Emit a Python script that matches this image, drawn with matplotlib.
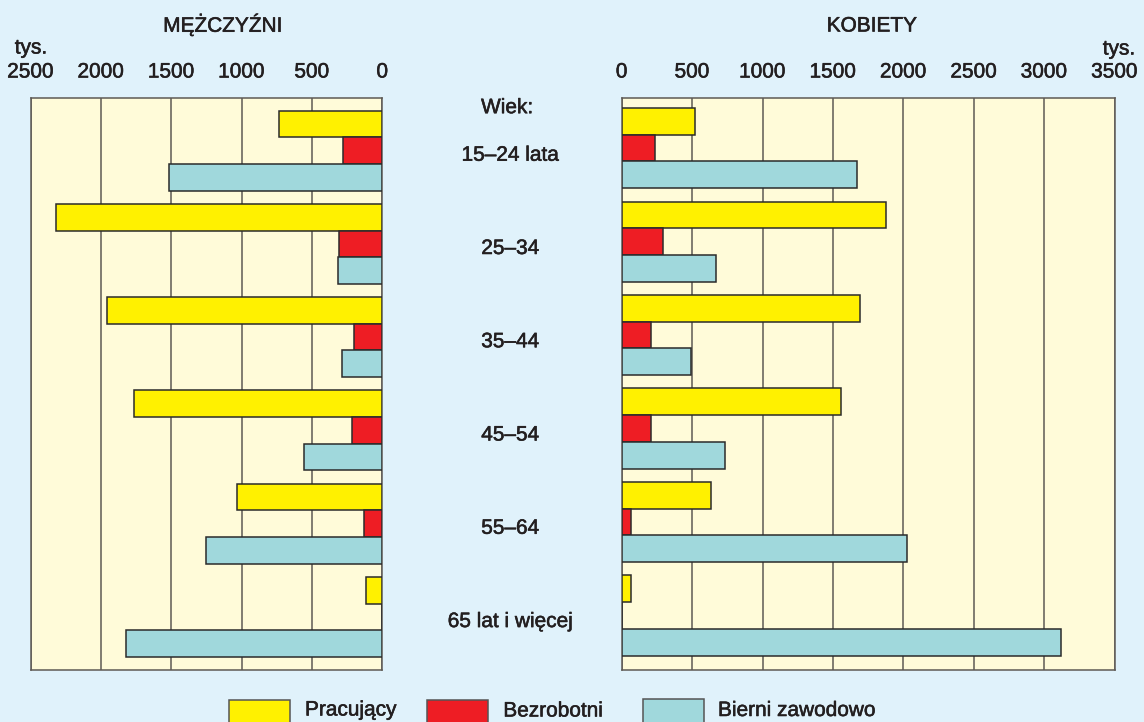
import matplotlib
matplotlib.use('Agg')
import matplotlib.pyplot as plt
import matplotlib.patheffects as pe
from matplotlib.patches import Rectangle
import numpy as np

# dane (tys. osób)
wiek = ['15–24 lata', '25–34', '35–44', '45–54', '55–64', '65 lat i więcej']
m_pracujacy = [737, 2322, 1957, 1761, 1030, 116]
m_bezrobotni = [277, 305, 199, 217, 128, 4]
m_bierni = [1513, 317, 288, 554, 1252, 1818]
k_pracujacy = [518, 1875, 1695, 1560, 634, 66]
k_bezrobotni = [234, 296, 206, 206, 64, 4]
k_bierni = [1669, 670, 490, 734, 2029, 3118]
ticks_m = [0, 500, 1000, 1500, 2000, 2500]
ticks_k = [0, 500, 1000, 1500, 2000, 2500, 3000, 3500]
legenda = ['Pracujący', 'Bezrobotni', 'Bierni zawodowo']

# kolory
tlo = '#e0f2fb'
panel = '#fffbd9'
kolory = ['#fff100', '#ee1d24', '#a0d8dc']
tekst = '#231f20'
siatka = '#5e5a55'

plt.rcParams['font.family'] = ['Liberation Sans', 'DejaVu Sans']
grub = [pe.withStroke(linewidth=0.4, foreground=tekst)]

fig = plt.figure(figsize=(11.44, 7.22), dpi=100, facecolor=tlo)
W, H = 1144, 722

def os_panelu(x0, x1):
    return fig.add_axes([x0 / W, 1 - 669.5 / H, (x1 - x0) / W, 572 / H])

ax_m = os_panelu(30.5, 382.3)
ax_k = os_panelu(621.7, 1114.5)

h = 0.2855
y = np.arange(len(wiek))

def rysuj(ax, serie, xmax, ticks, ylim):
    ax.set_facecolor(panel)
    for j, (wart, kol) in enumerate(zip(serie, kolory)):
        ax.barh(y + (j - 1) * h, wart, height=h, color=kol,
                edgecolor='#2b2b2b', linewidth=1.1, zorder=3)
    ax.set_xlim(0, xmax)
    ax.set_ylim(*ylim)
    ax.set_xticks(ticks)
    ax.set_xticklabels([str(t) for t in ticks], fontsize=15, color=tekst,
                       path_effects=grub)
    ax.xaxis.tick_top()
    ax.tick_params(axis='x', length=0, pad=11.5)
    ax.set_yticks([])
    ax.grid(axis='x', color=siatka, linewidth=1.1)
    ax.set_axisbelow(True)
    for s in ax.spines.values():
        s.set_color(siatka)
        s.set_linewidth(1.1)

rysuj(ax_m, [m_pracujacy, m_bezrobotni, m_bierni], 2500, ticks_m, (5.564, -0.569))
ax_m.invert_xaxis()
rysuj(ax_k, [k_pracujacy, k_bezrobotni, k_bierni], 3500, ticks_k, (5.578, -0.541))

# etykiety grup wieku
tr = ax_m.get_yaxis_transform()
for i, w in enumerate(wiek):
    ax_m.text(1.364, i + 0.05, w, transform=tr, ha='center', va='center',
              fontsize=15, color=tekst, path_effects=grub, clip_on=False)
ax_m.text(1.355, -0.46, 'Wiek:', transform=tr, ha='center', va='center',
          fontsize=15, color=tekst, path_effects=grub, clip_on=False)

# tytuły i jednostki
fig.text(223 / W, 1 - 25 / H, 'MĘŻCZYŹNI', ha='center', va='center',
         fontsize=15, color=tekst, path_effects=grub)
fig.text(872 / W, 1 - 26 / H, 'KOBIETY', ha='center', va='center',
         fontsize=15, color=tekst, path_effects=grub)
fig.text(31 / W, 1 - 48 / H, 'tys.', ha='center', va='center',
         fontsize=15, color=tekst, path_effects=grub)
fig.text(1119 / W, 1 - 49 / H, 'tys.', ha='center', va='center',
         fontsize=15, color=tekst, path_effects=grub)

# legenda
pola = [(229, 700.3, 305, 715.5), (426.7, 699.7, 503.3, 716.5), (643.3, 698.7, 718, 716)]
for (bx, by, tx, ty), kol, lab in zip(pola, kolory, legenda):
    fig.patches.append(Rectangle((bx / W, 1 - 730 / H), 61 / W, (730 - by) / H,
                                 transform=fig.transFigure, facecolor=kol,
                                 edgecolor='#555555', linewidth=1.1))
    fig.text(tx / W, 1 - ty / H, lab, ha='left', va='baseline',
             fontsize=15, color=tekst, path_effects=grub)

fig.savefig('out.png', dpi=100, facecolor=tlo)
